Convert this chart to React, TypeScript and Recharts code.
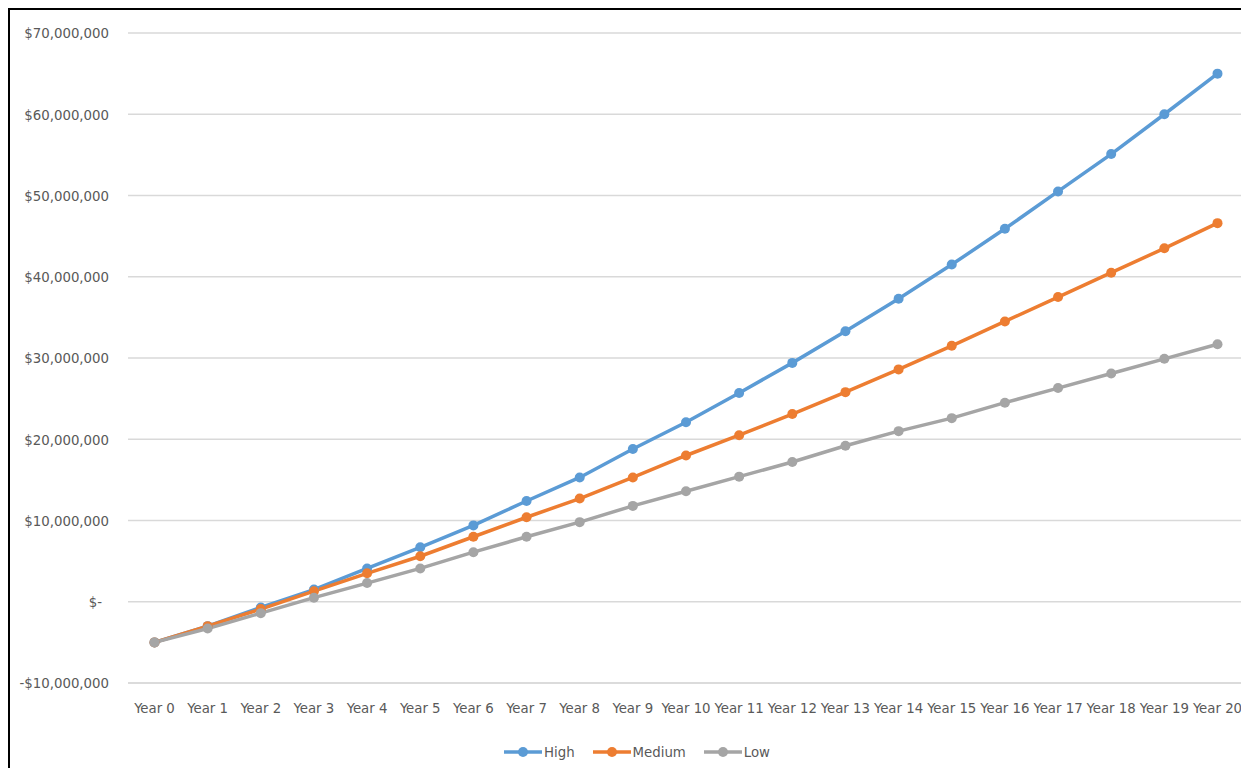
import { LineChart, Line, XAxis, YAxis, CartesianGrid, Legend } from "recharts";

const years = [
  "Year 0", "Year 1", "Year 2", "Year 3", "Year 4", "Year 5", "Year 6",
  "Year 7", "Year 8", "Year 9", "Year 10", "Year 11", "Year 12", "Year 13",
  "Year 14", "Year 15", "Year 16", "Year 17", "Year 18", "Year 19", "Year 20",
];

// values in $ millions
const high = [
  -5.0, -3.0, -0.7, 1.5, 4.1, 6.7, 9.4, 12.4, 15.3, 18.8, 22.1, 25.7, 29.4,
  33.3, 37.3, 41.5, 45.9, 50.5, 55.1, 60.0, 65.0,
];
const medium = [
  -5.0, -3.0, -0.9, 1.3, 3.5, 5.6, 8.0, 10.4, 12.7, 15.3, 18.0, 20.5, 23.1,
  25.8, 28.6, 31.5, 34.5, 37.5, 40.5, 43.5, 46.6,
];
const low = [
  -5.0, -3.3, -1.4, 0.5, 2.3, 4.1, 6.1, 8.0, 9.8, 11.8, 13.6, 15.4, 17.2,
  19.2, 21.0, 22.6, 24.5, 26.3, 28.1, 29.9, 31.7,
];

const yTicks = [-10e6, 0, 10e6, 20e6, 30e6, 40e6, 50e6, 60e6, 70e6];

const series = [
  { key: "High", color: "#5b9bd5" },
  { key: "Medium", color: "#ed7d31" },
  { key: "Low", color: "#a5a5a5" },
];

const data = years.map((year, i) => ({
  year,
  High: high[i] * 1e6,
  Medium: medium[i] * 1e6,
  Low: low[i] * 1e6,
}));

const FONT = '"DejaVu Sans Condensed", Roboto, sans-serif';
const SIZE = 14.8;
const TEXT = "#595959";

const money = (v: number) => {
  if (v === 0) return "$-";
  const s = "$" + Math.abs(v).toLocaleString("en-US");
  return v < 0 ? "-" + s : s;
};

const YTick = ({ x, y, payload }: any) => (
  <text
    x={payload.value === 0 ? x - 7 : x}
    y={y}
    dy="0.355em"
    textAnchor="end"
    fill={TEXT}
    fontSize={SIZE}
    fontFamily={FONT}
  >
    {money(payload.value)}
  </text>
);

const LegendContent = () => (
  <div
    style={{
      display: "flex",
      justifyContent: "center",
      alignItems: "center",
      gap: 18,
      paddingTop: 20,
      paddingLeft: 20,
      fontFamily: FONT,
      fontSize: SIZE,
      color: TEXT,
    }}
  >
    {series.map((s) => (
      <div key={s.key} style={{ display: "flex", alignItems: "center", gap: 2 }}>
        <svg width={38} height={12}>
          <line x1={0} y1={6} x2={38} y2={6} stroke={s.color} strokeWidth={3.5} />
          <circle cx={19} cy={6} r={5} fill={s.color} />
        </svg>
        <span>{s.key}</span>
      </div>
    ))}
  </div>
);

export default function App() {
  return (
    <div
      style={{
        width: 1245,
        height: 760,
        borderTop: "2px solid #000",
        borderLeft: "2px solid #000",
        overflow: "hidden",
        background: "#fff",
      }}
    >
      <style>{"body{overflow:hidden}"}</style>
      <LineChart
        width={1239}
        height={758}
        data={data}
        margin={{ top: 23, right: 5, bottom: 5, left: 0 }}
      >
        <CartesianGrid vertical={false} stroke="#d9d9d9" strokeWidth={1.3} />
        <XAxis
          dataKey="year"
          padding={{ left: 26.5, right: 26.5 }}
          axisLine={{ stroke: "#d9d9d9", strokeWidth: 1.3 }}
          tickLine={false}
          tickMargin={13}
          height={40}
          interval={0}
          tick={{ fill: TEXT, fontSize: SIZE, fontFamily: FONT }}
        />
        <YAxis
          width={118}
          domain={[-10e6, 70e6]}
          ticks={yTicks}
          axisLine={false}
          tickLine={false}
          tickMargin={13}
          tick={<YTick />}
        />
        <Legend verticalAlign="bottom" height={40} content={<LegendContent />} />
        {series.map((s) => (
          <Line
            key={s.key}
            dataKey={s.key}
            stroke={s.color}
            strokeWidth={3.5}
            dot={{ r: 5, fill: s.color, stroke: s.color, strokeWidth: 0 }}
            activeDot={false}
            isAnimationActive={false}
          />
        ))}
      </LineChart>
    </div>
  );
}
